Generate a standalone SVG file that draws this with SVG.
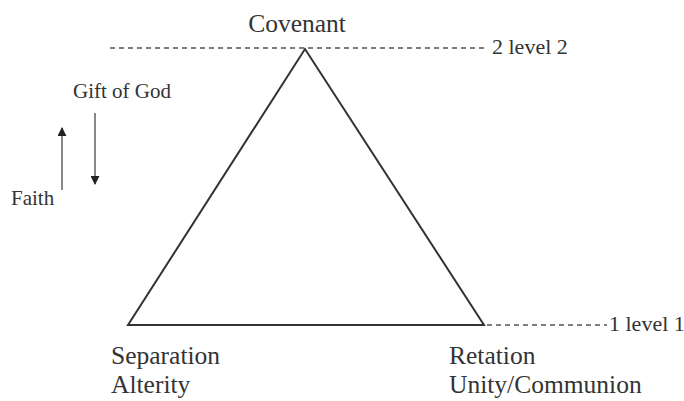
<svg xmlns="http://www.w3.org/2000/svg" width="684" height="401" viewBox="0 0 684 401">
  <defs>
    <marker id="head" viewBox="0 0 10 10" refX="9" refY="5" markerWidth="4.5" markerHeight="4.5" orient="auto" markerUnits="strokeWidth">
      <path d="M0,0 L10,5 L0,10 Z" fill="#222"/>
    </marker>
    <style>
      .level { stroke: #555; stroke-width: 1.4; stroke-dasharray: 5 4; fill: none; }
      .edge { stroke: #333; stroke-width: 2; fill: none; stroke-linejoin: miter; }
      .arrow { stroke: #888; stroke-width: 2; fill: none; marker-end: url(#head); }
    </style>
  </defs>
  <rect width="684" height="401" fill="#fff"/>

  <!-- level guides -->
  <g id="levels">
    <line class="level" x1="110" y1="48" x2="484" y2="48"/>
    <line class="level" x1="487" y1="325" x2="607" y2="325"/>
    <text x="492" y="54" font-size="22" fill="#333" font-family="Liberation Serif">2 level 2</text>
    <text x="609" y="331" font-size="22" fill="#333" font-family="Liberation Serif">1 level 1</text>
  </g>

  <!-- triangle -->
  <g id="triangle">
    <path class="edge" d="M305,49 L484,325 L128,325 Z"/>
  </g>

  <!-- vertices -->
  <g id="covenant">
    <text x="297" y="32" text-anchor="middle" font-size="25.5" fill="#333" font-family="Liberation Serif">Covenant</text>
  </g>
  <g id="separation">
    <text x="111" y="364" font-size="25.5" fill="#333" font-family="Liberation Serif">Separation</text>
    <text x="111" y="393" font-size="25.5" fill="#333" font-family="Liberation Serif">Alterity</text>
  </g>
  <g id="retation">
    <text x="449" y="364" font-size="25.5" fill="#333" font-family="Liberation Serif">Retation</text>
    <text x="449" y="393" font-size="25.5" fill="#333" font-family="Liberation Serif">Unity/Communion</text>
  </g>

  <!-- movement arrows -->
  <g id="connectors">
    <line class="arrow" x1="62" y1="190" x2="62" y2="128"/>
    <line class="arrow" x1="95" y1="113" x2="95" y2="184"/>
  </g>
  <g id="gift">
    <text x="73" y="98" font-size="21" fill="#333" font-family="Liberation Serif">Gift of God</text>
  </g>
  <g id="faith">
    <text x="11" y="205" font-size="21" fill="#333" font-family="Liberation Serif">Faith</text>
  </g>
</svg>
